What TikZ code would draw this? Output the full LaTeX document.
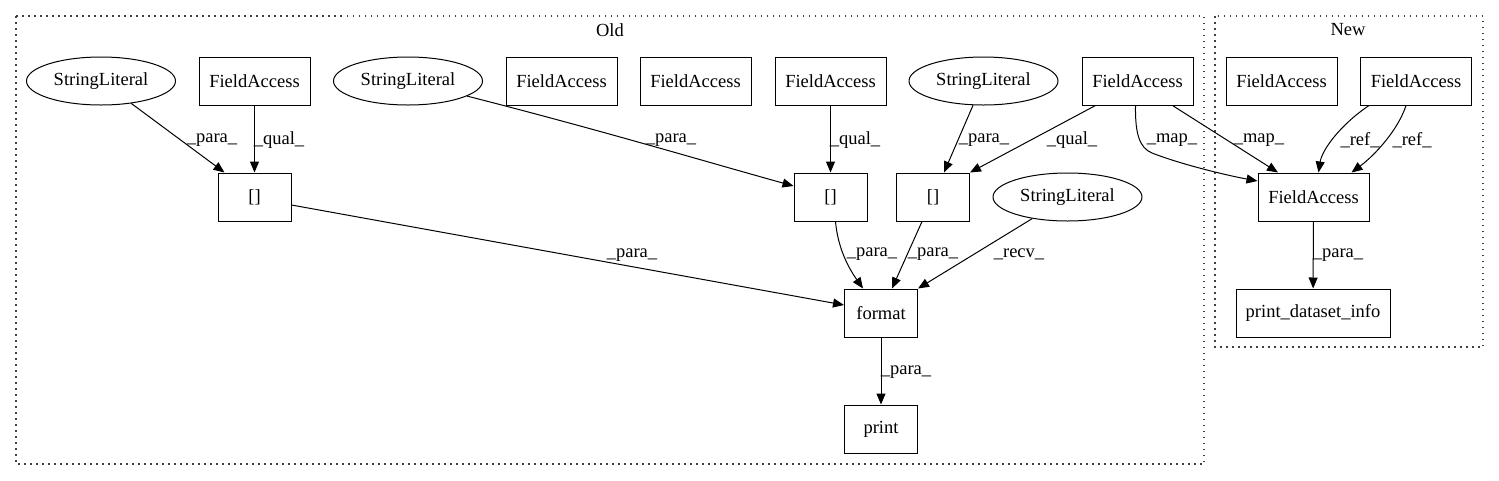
\documentclass[tikz,border=0pt]{standalone}
\usepackage{fontspec}
\setmainfont{Liberation Serif}
\usetikzlibrary{shapes.geometric,arrows.meta}
\begin{document}
\begin{tikzpicture}[x=1pt,y=-1pt,
  every node/.style={font=\fontsize{18.5}{21}\selectfont},
  box/.style={draw,line width=1pt,minimum height=48pt,minimum width=73pt,inner sep=0pt},
  fa/.style={box,minimum width=111pt},
  lit/.style={draw,line width=1pt,ellipse,minimum width=149pt,minimum height=48pt,inner sep=0pt},
  arr/.style={line width=1pt,-{Triangle[length=11pt,width=9pt]}},
  lbl/.style={inner sep=0pt},
  cluster/.style={line width=1.2pt,dash pattern=on 1.5pt off 4.5pt,black!75}]
\useasboundingbox (0,0) rectangle (1499,480);
% clusters
\draw[cluster] (16,16) rectangle (1204,464);
\draw[cluster] (1215,16) rectangle (1483,347);
\node[lbl] (oldlbl) at (610,30) {Old};
\node[lbl] (newlbl) at (1348,30) {New};
% row 1
\node[lit] (sl1) at (101,81) {StringLiteral};
\node[fa] (fa1) at (254.5,81) {FieldAccess};
\node[lit] (sl2) at (408,81) {StringLiteral};
\node[fa] (fa2) at (561.5,81) {FieldAccess};
\node[fa] (fa3) at (695.5,81) {FieldAccess};
\node[fa] (fa4) at (830.5,81) {FieldAccess};
\node[lit] (sl3) at (983.5,81) {StringLiteral};
\node[fa] (fa5) at (1137.5,81) {FieldAccess};
\node[fa] (fa6) at (1281.5,81) {FieldAccess};
\node[fa] (fa7) at (1416,81) {FieldAccess};
% row 2
\node[box] (b1) at (254.5,197) {[]};
\node[box] (b2) at (830.5,197) {[]};
\node[box] (b3) at (933,197) {[]};
\node[lit] (sl4) at (1067.5,197) {StringLiteral};
\node[fa] (fa8) at (1313.5,197) {FieldAccess};
% row 3
\node[box] (fmt) at (881,313) {format};
\node[box,minimum width=154pt] (pdi) at (1313,313) {print\_dataset\_info};
\node[box] (prt) at (881,429) {print};
% edges
\draw[arr] (sl1) -- ([xshift=7pt]b1.north west);
\node[lbl] (l1) at (212,140) {\_para\_};
\draw[arr] (fa1) -- (b1);
\node[lbl] (l2) at (279,140) {\_qual\_};
\draw[arr] (sl2) .. controls (600,130) and (700,160) .. ([yshift=11pt]b2.west);
\node[lbl] (l3) at (671,140) {\_para\_};
\draw[arr] (fa4) -- (b2);
\node[lbl] (l4) at (855,140) {\_qual\_};
\draw[arr] (sl3) -- ([xshift=11pt]b3.north);
\node[lbl] (l5) at (984,140) {\_para\_};
\draw[arr] ([xshift=-42pt]fa5.south) -- (b3.north east);
\node[lbl] (l6) at (1072,140) {\_qual\_};
\draw[arr] ([xshift=-2pt]fa5.south) .. controls (1135,135) and (1140,148) .. (1152,153)
  .. controls (1180,164) and (1225,175) .. ([yshift=16pt]fa8.west);
\node[lbl] (l7) at (1172,140) {\_map\_};
\draw[arr] ([xshift=35pt]fa5.south) -- ([xshift=-35.5pt]fa8.north);
\node[lbl] (l8) at (1259,140) {\_map\_};
\draw[arr] ([xshift=-47pt]fa7.south) .. controls (1340,125) and (1322,150) .. ([xshift=5pt]fa8.north);
\node[lbl] (l9) at (1360,140) {\_ref\_};
\draw[arr] ([xshift=-10pt]fa7.south) .. controls (1398,130) and (1375,155) .. ([xshift=38pt]fa8.north);
\node[lbl] (l10) at (1412,140) {\_ref\_};
\draw[arr] ([yshift=-8pt]b1.east) -- ([yshift=8pt]fmt.west);
\node[lbl] (l11) at (632,255) {\_para\_};
\draw[arr] ([xshift=5pt]b2.south) .. controls (838,250) and (850,270) .. ([xshift=-18pt]fmt.north);
\node[lbl] (l12) at (872,254) {\_para\_};
\draw[arr] ([xshift=-11pt]b3.south) -- ([xshift=11pt]fmt.north);
\node[lbl] (l13) at (933,254) {\_para\_};
\draw[arr] (sl4) -- (fmt.north east);
\node[lbl] (l14) at (1019,254) {\_recv\_};
\draw[arr] (fmt) -- (prt);
\node[lbl] (l15) at (906,372) {\_para\_};
\draw[arr] (fa8) -- (pdi);
\node[lbl] (l16) at (1338,255) {\_para\_};
\end{tikzpicture}
\end{document}
